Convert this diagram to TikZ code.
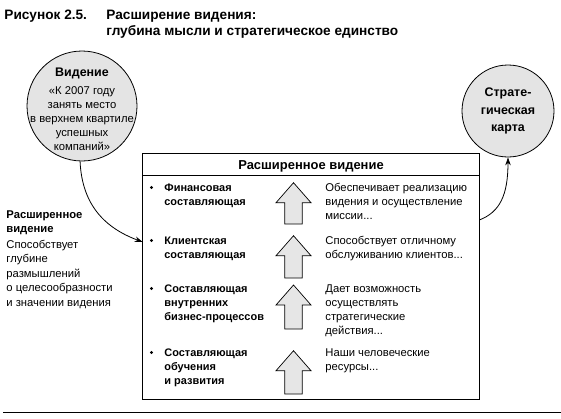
\documentclass[tikz,border=0pt]{standalone}
\usepackage{fontspec}
\setmainfont{Liberation Sans}
\usetikzlibrary{arrows.meta}
\definecolor{lgray}{HTML}{E4E4E4}
\definecolor{agray}{HTML}{E6E6E6}
\begin{document}
\begin{tikzpicture}[x=1bp,y=-1bp,
  line width=0.8bp,
  ttl/.style={inner sep=0, anchor=base west, align=left, font=\bfseries\fontsize{13.7}{16.5}\selectfont},
  txt/.style={inner sep=0, anchor=base west, align=left, font=\fontsize{11.3}{14}\selectfont},
  btxt/.style={inner sep=0, anchor=base west, align=left, font=\bfseries\fontsize{11}{14}\selectfont},
  ctext/.style={inner sep=0, anchor=base, align=center, font=\fontsize{11.3}{14}\selectfont},
  circ/.style={circle, draw, fill=lgray, inner sep=0},
  conn/.style={-{Stealth[length=8bp,width=5.5bp]}, line width=0.8bp},
  arrfill/.style={draw, fill=agray, line width=0.7bp, line join=miter},
  pics/uparr/.style={code={\draw[arrfill] (0,0) -- (17.5,20) -- (8.7,20) -- (8.7,#1) -- (-8.7,#1) -- (-8.7,20) -- (-17.5,20) -- cycle;}}
]
\useasboundingbox (0,0) rectangle (561,418);

% title (multi-line nodes are anchored at the baseline of their last line)
\node[ttl] (t1) at (4,19.3) {Рисунок\ 2.5.};
\node[ttl] (t2) at (106,35.8) {Расширение видения:\\глубина мысли и стратегическое единство};

% vision circle
\node[circ, minimum size=110bp] (vis) at (82,106) {};
\node[ctext] (vist) at (82,150.7) {{\bfseries\fontsize{12.5}{14}\selectfont Видение}\\[4bp]«К 2007 году\\занять место\\в верхнем квартиле\\успешных\\компаний»};

% strategy map circle
\node[circ, minimum size=92bp] (map) at (508,111) {};
\node[ctext, font=\bfseries\fontsize{12.5}{17.5}\selectfont] (mapt) at (508,131.7) {Страте-\\гическая\\карта};

% main box
\node[draw, minimum width=336.6bp, minimum height=246.3bp, inner sep=0] (box) at (311,276.15) {};
\coordinate (hl) at (0,175);
\draw (box.west |- hl) -- (box.east |- hl);
\node[ctext, font=\bfseries\fontsize{13}{14}\selectfont] (hdr) at (311,169) {Расширенное видение};

% rows: bullets
\foreach \yy in {191,244,292,356}{\fill (151.5,\yy-3.6) circle (1.6bp);}

\node[btxt] (r1l) at (164,205) {Финансовая\\составляющая};
\node[btxt] (r2l) at (164,258) {Клиентская\\составляющая};
\node[btxt] (r3l) at (164,320) {Составляющая\\внутренних\\бизнес-процессов};
\node[btxt] (r4l) at (164,384) {Составляющая\\обучения\\и развития};

\node[txt] (r1r) at (325,219) {Обеспечивает реализацию\\видения и осуществление\\миссии...};
\node[txt] (r2r) at (325,258) {Способствует отличному\\обслуживанию клиентов...};
\node[txt] (r3r) at (325,334) {Дает возможность\\осуществлять\\стратегические\\действия...};
\node[txt] (r4r) at (325,370) {Наши человеческие\\ресурсы...};

% block arrows
\pic at (293.5,182.7) {uparr=41.3};
\pic at (293.5,235.7) {uparr=42.3};
\pic at (293.5,285) {uparr=44};
\pic at (293.5,350.7) {uparr=43.3};

% left description
\node[btxt, font=\bfseries\fontsize{11.3}{14}\selectfont] (ldh) at (6,232) {Расширенное\\видение};
\node[txt, font=\fontsize{11.3}{14.5}\selectfont] (ldt) at (6,306) {Способствует\\глубине\\размышлений\\о целесообразности\\и значении видения};

% connectors
\coordinate (inL) at (142.7,242);
\coordinate (outR) at (479.3,220);
\draw[conn] (vis.-92) .. controls (82,205) and (105,228) .. (inL);
\draw[conn] (outR) .. controls (500,212) and (508,195) .. (map.-90);

% bottom rule
\coordinate (ruleL) at (3,412.3);
\coordinate (ruleR) at (561,412.3);
\draw[line width=1bp] (ruleL) -- (ruleR);
\end{tikzpicture}
\end{document}
